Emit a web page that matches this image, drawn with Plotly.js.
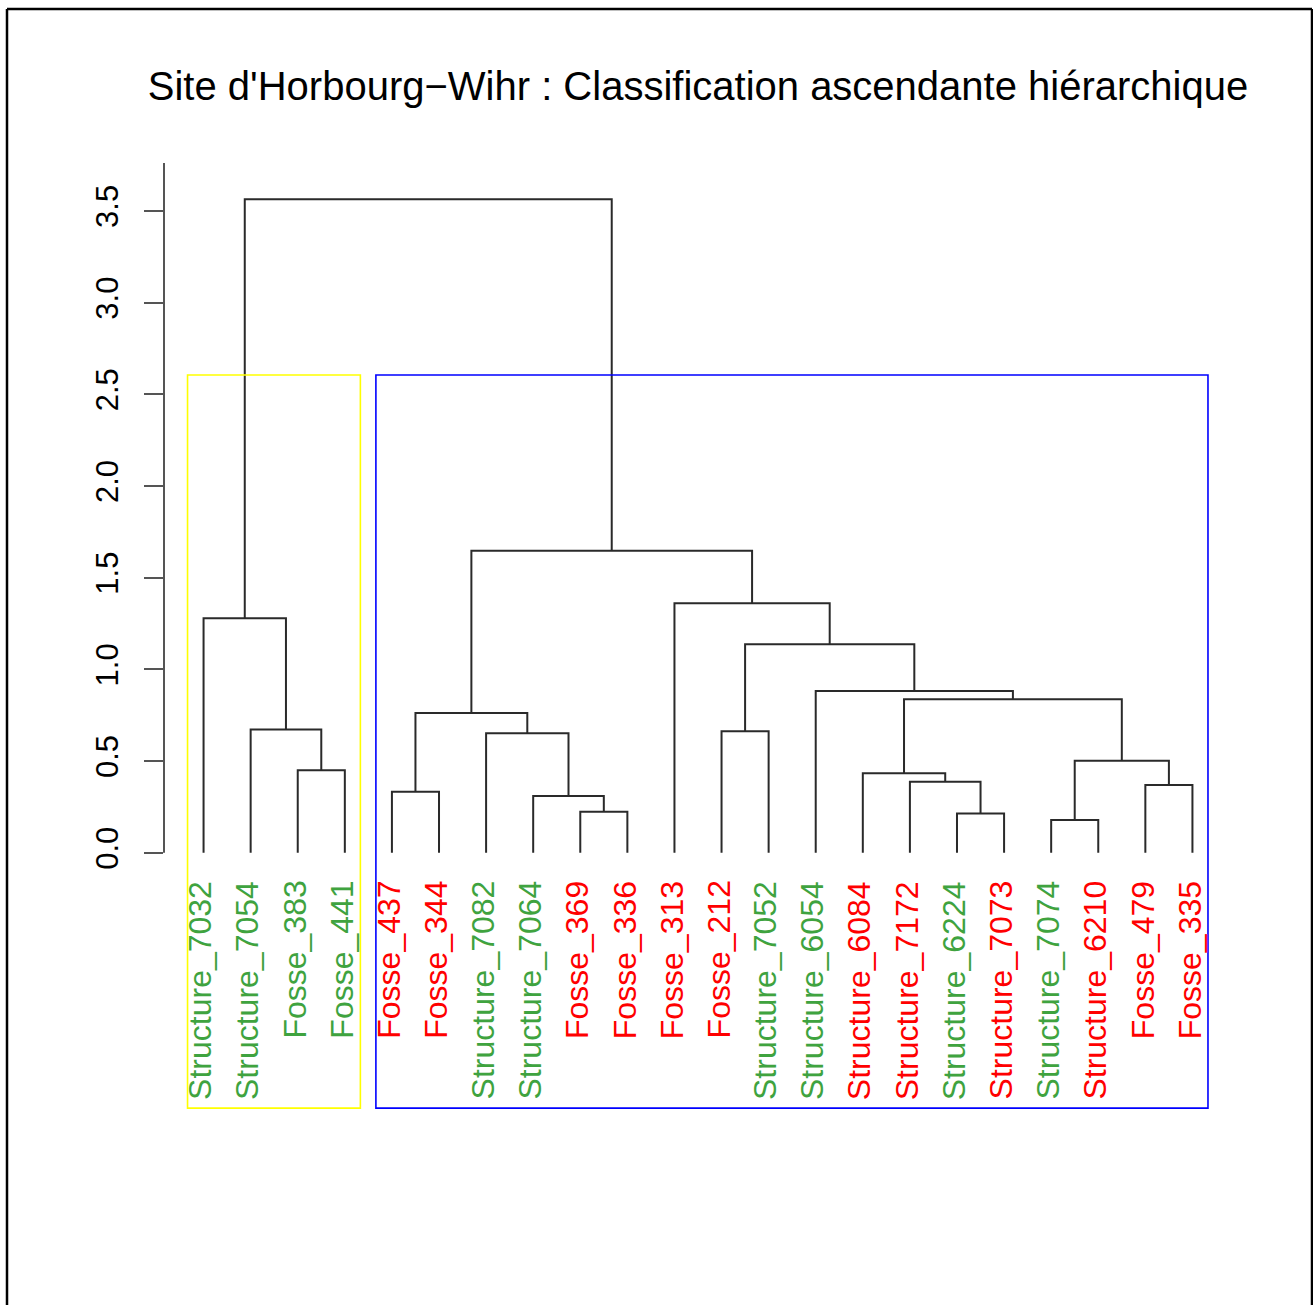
<!DOCTYPE html>
<html>
<head>
<meta charset="utf-8">
<script src="https://cdn.plot.ly/plotly-3.0.1.min.js"></script>
<style>html,body{margin:0;padding:0;background:#fff;}#chart{width:1313px;height:1305px;}</style>
</head>
<body>
<div id="chart"></div>
<script>
// ---- data ----
const titleText = "Site d'Horbourg\u2212Wihr : Classification ascendante hiérarchique";
const leafLabels = ["Structure_7032","Structure_7054","Fosse_383","Fosse_441","Fosse_437","Fosse_344",
  "Structure_7082","Structure_7064","Fosse_369","Fosse_336","Fosse_313","Fosse_212","Structure_7052",
  "Structure_6054","Structure_6084","Structure_7172","Structure_6224","Structure_7073","Structure_7074",
  "Structure_6210","Fosse_479","Fosse_335"];
const leafGroup = [1,1,1,1,2,2,1,1,2,2,2,2,1,1,2,2,1,2,1,2,2,2];
// merges in R hclust convention: negative = leaf (display position), positive = earlier merge
const mergeLeft   = [-19,-17,-9,-8,-5,-21,-16,-15,-3, 1,-7,-12,-2, 5, 8,-14,12,-1,-11,14,18];
const mergeRight  = [-20,-18,-10, 3,-6,-22,  2,  7,-4, 6, 4,-13, 9,11,10, 15,16,13, 17,19,20];
const mergeHeight = [0.179,0.215,0.224,0.310,0.333,0.370,0.388,0.434,0.450,0.502,0.652,0.663,0.673,
  0.762,0.837,0.882,1.137,1.279,1.361,1.648,3.564];
const clusterSizes = [4, 18];
const yTickVals = [0, 0.5, 1, 1.5, 2, 2.5, 3, 3.5];
const yTickText = ["0.0","0.5","1.0","1.5","2.0","2.5","3.0","3.5"];

// ---- styles / layout constants ----
const groupColor = {1: '#3fa33f', 2: '#ff0000'};
const clusterColor = ['#ffff00', '#0000ff'];
const FONT = 'Liberation Sans, Arial, Helvetica, sans-serif';
const W = 1313, H = 1305;
const mL = 164, mR = 81, mT = 163, mB = 186;
const nLeaf = leafLabels.length;
const xPad = 0.04 * (nLeaf - 1);
const xRange = [1 - xPad, nLeaf + xPad];
const yRange = [-1.4515, 3.762];
const rectBottom = -1.392;

// ---- build dendrogram segments ----
const mx = [], segX = [], segY = [];
function node(ref) {
  return ref < 0 ? {x: -ref, h: 0} : {x: mx[ref - 1], h: mergeHeight[ref - 1]};
}
for (let i = 0; i < mergeHeight.length; i++) {
  const a = node(mergeLeft[i]), b = node(mergeRight[i]), h = mergeHeight[i];
  mx.push((a.x + b.x) / 2);
  segX.push(a.x, a.x, b.x, b.x, null);
  segY.push(a.h, h, h, b.h, null);
}

const traces = [{
  type: 'scatter', mode: 'lines', x: segX, y: segY,
  line: {color: '#2a2a2a', width: 2}, hoverinfo: 'skip', showlegend: false
}];

// ---- cluster rectangles (rect.hclust, k = 2) ----
const shapes = [];
const sortedH = mergeHeight.slice().sort((p, q) => q - p);
const rectTop = (sortedH[0] + sortedH[1]) / 2;
let cum = 0;
clusterSizes.forEach((s, k) => {
  shapes.push({type: 'rect', xref: 'x', yref: 'y', x0: cum + 0.66, x1: cum + s + 0.33,
    y0: rectBottom, y1: rectTop, line: {color: clusterColor[k], width: 1.6}, layer: 'above'});
  cum += s;
});
// y axis line
shapes.push({type: 'line', xref: 'paper', yref: 'y', x0: 0, x1: 0, y0: 0, y1: yRange[1],
  line: {color: '#555555', width: 2}});
// outer frame of the picture (pixel -> paper)
const pw = W - mL - mR, ph = H - mT - mB;
const px = v => (v - mL) / pw, py = v => (H - mB - v) / ph;
shapes.push({type: 'line', xref: 'paper', yref: 'paper', x0: px(7), x1: px(7), y0: py(9), y1: py(1320), line: {color: '#000', width: 2.5}});
shapes.push({type: 'line', xref: 'paper', yref: 'paper', x0: px(7), x1: px(1312), y0: py(9), y1: py(9), line: {color: '#000', width: 2.5}});
shapes.push({type: 'line', xref: 'paper', yref: 'paper', x0: px(1312), x1: px(1312), y0: py(9), y1: py(1320), line: {color: '#000', width: 2.5}});

// ---- leaf labels ----
const annotations = leafLabels.map((t, i) => ({
  x: i + 1, y: 0, xref: 'x', yref: 'y', text: t, showarrow: false,
  textangle: -90, xanchor: 'center', yanchor: 'top', yshift: -26, xshift: -3,
  font: {family: FONT, size: 32, color: groupColor[leafGroup[i]]}
}));

const layout = {
  width: W, height: H,
  margin: {l: mL, r: mR, t: mT, b: mB, pad: 0},
  paper_bgcolor: '#ffffff', plot_bgcolor: '#ffffff',
  showlegend: false,
  title: {text: titleText, font: {family: FONT, size: 40, color: '#000'},
    x: 0.5, xref: 'paper', xanchor: 'center', y: 1 - 86 / H, yref: 'container', yanchor: 'middle'},
  xaxis: {range: xRange, showgrid: false, zeroline: false, showline: false, showticklabels: false,
    ticks: '', fixedrange: true},
  yaxis: {range: yRange, showgrid: false, zeroline: false, showline: false,
    tickmode: 'array', tickvals: yTickVals, ticktext: yTickText, ticks: 'outside', ticklen: 19,
    tickwidth: 2, tickcolor: '#555555', tickangle: -90, ticklabelstandoff: 14,
    tickfont: {family: FONT, size: 31, color: '#000'}, fixedrange: true},
  shapes: shapes,
  annotations: annotations
};

Plotly.newPlot('chart', traces, layout, {displayModeBar: false, staticPlot: true});
</script>
</body>
</html>
